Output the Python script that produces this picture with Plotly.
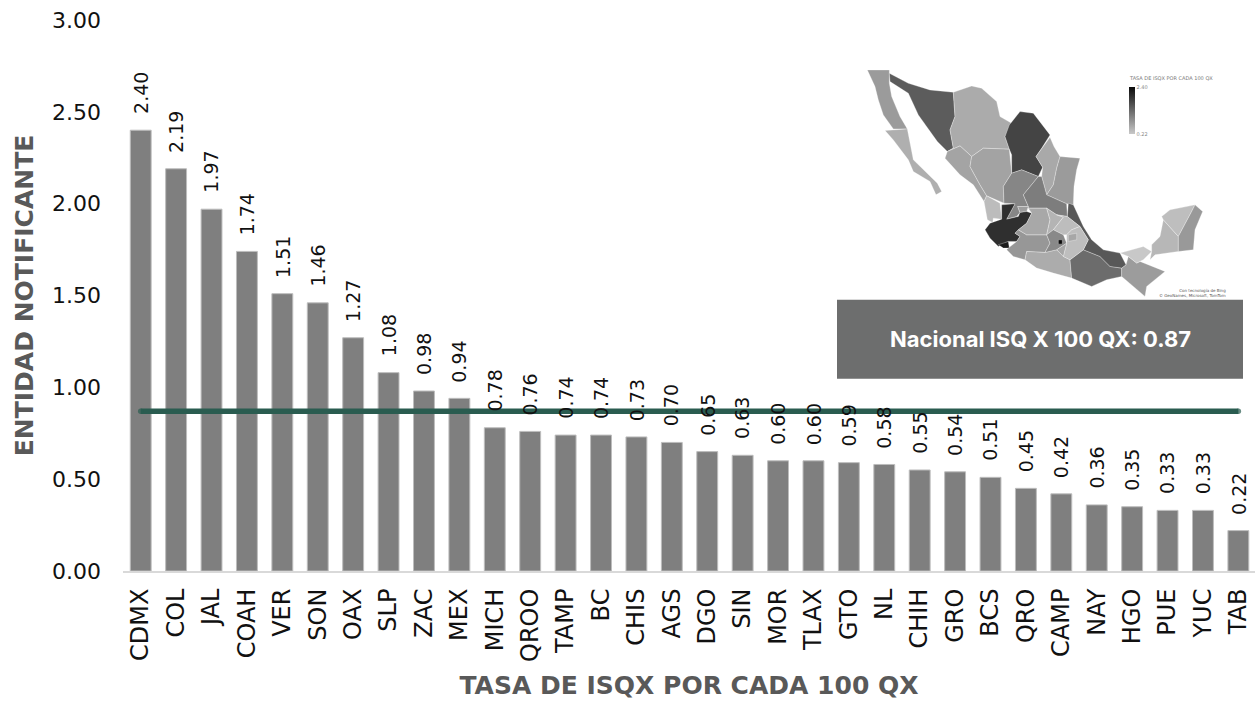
import plotly.graph_objects as go

ENTIDADES = ["CDMX","COL","JAL","COAH","VER","SON","OAX","SLP","ZAC","MEX","MICH","QROO","TAMP","BC","CHIS","AGS",
             "DGO","SIN","MOR","TLAX","GTO","NL","CHIH","GRO","BCS","QRO","CAMP","NAY","HGO","PUE","YUC","TAB"]
TASAS = [2.40,2.19,1.97,1.74,1.51,1.46,1.27,1.08,0.98,0.94,0.78,0.76,0.74,0.74,0.73,0.70,
         0.65,0.63,0.60,0.60,0.59,0.58,0.55,0.54,0.51,0.45,0.42,0.36,0.35,0.33,0.33,0.22]
NACIONAL = 0.87
Y_TICKS = [0, 0.5, 1.0, 1.5, 2.0, 2.5, 3.0]

# Rough state outlines read from the inset map (x, y on the inset's own scale)
ESTADOS = {
 "BC":[(52,30),(118,30),(118,70),(125,110),(150,170),(172,207),(130,207),(100,165),(85,120),(75,80)],
 "BCS":[(105,212),(172,207),(190,300),(215,325),(240,350),(262,370),(275,395),(258,405),(240,365),(190,335),(175,300),(130,240)],
 "SON":[(118,40),(175,70),(240,90),(310,97),(315,170),(300,210),(310,265),(292,275),(262,245),(230,200),(205,165),(175,100),(120,65)],
 "CHIH":[(310,97),(365,78),(395,85),(440,125),(450,170),(485,190),(465,230),(478,268),(400,265),(365,290),(330,258),(292,275),(310,265),(300,210),(315,170)],
 "COAH":[(478,195),(510,155),(550,160),(580,200),(600,225),(575,265),(558,290),(578,322),(565,350),(515,330),(485,340),(485,285),(478,268),(465,230)],
 "NL":[(600,232),(612,260),(630,290),(620,325),(610,375),(590,405),(575,350),(578,322),(558,290),(575,265)],
 "TAMP":[(630,290),(690,295),(680,330),(672,380),(670,435),(650,432),(590,405),(610,375),(620,325)],
 "SIN":[(292,275),(330,258),(365,290),(360,320),(390,375),(410,408),(402,425),(370,375),(330,345),(285,295)],
 "DGO":[(365,290),(400,265),(478,268),(485,340),(460,380),(462,430),(410,408),(390,375),(360,320)],
 "ZAC":[(515,330),(565,350),(520,405),(535,440),(503,440),(510,458),(500,470),(470,478),(495,432),(462,430),(460,380),(485,340)],
 "SLP":[(565,350),(575,350),(590,405),(650,432),(652,470),(620,465),(590,445),(535,445),(535,440),(520,405)],
 "NAY":[(402,425),(410,408),(450,430),(455,478),(430,475),(428,488),(412,480)],
 "AGS":[(503,440),(535,440),(530,455),(510,458)],
 "JAL":[(420,490),(455,478),(455,435),(495,432),(470,478),(505,470),(510,458),(530,455),(545,460),(530,490),(505,510),(495,520),(510,530),(500,545),(475,545),(445,560),(420,535),(405,510)],
 "COL":[(445,555),(475,545),(478,565),(460,565)],
 "MICH":[(475,565),(500,545),(510,530),(495,520),(505,510),(530,525),(590,525),(600,550),(585,578),(530,575),(525,600),(490,590),(470,570)],
 "GRO":[(530,575),(585,578),(620,570),(640,590),(660,600),(665,655),(610,640),(560,625),(525,600)],
 "OAX":[(660,600),(700,570),(750,590),(780,620),(815,625),(815,650),(770,660),(725,680),(665,655)],
 "CHIS":[(835,590),(860,610),(870,605),(945,635),(890,680),(885,710),(850,680),(815,650),(815,625),(828,615)],
 "VER":[(655,430),(670,435),(700,500),(725,540),(760,570),(810,580),(828,615),(815,625),(780,620),(750,590),(700,570),(715,540),(690,500),(652,470)],
 "TAB":[(810,580),(880,560),(905,575),(880,600),(860,610),(835,590)],
 "CAMP":[(905,555),(930,530),(940,480),(985,530),(985,575),(915,585),(900,600),(905,575)],
 "YUC":[(935,470),(960,450),(1035,435),(1025,455),(985,530),(940,480)],
 "QROO":[(1035,435),(1058,455),(1035,510),(1030,570),(985,575),(985,530),(1025,455)],
 "GTO":[(535,445),(590,445),(600,480),(590,525),(530,525),(505,510),(530,490),(545,460)],
 "QRO":[(590,445),(620,465),(640,472),(610,510),(590,525),(600,480)],
 "HGO":[(620,465),(652,470),(690,500),(665,510),(650,525),(640,525),(610,510),(640,472)],
 "MEX":[(590,525),(610,510),(640,525),(650,550),(620,570),(585,578),(600,550)],
 "PUE":[(650,525),(665,510),(690,500),(715,540),(700,570),(660,600),(640,590),(650,550)],
 "MOR":[(620,570),(650,550),(640,590)],
 "TLAX":[(655,525),(680,520),(680,540),(655,545)],
 "CDMX":[(625,540),(637,540),(637,553),(625,553)],
}

VAL = dict(zip(ENTIDADES, TASAS))
vmin, vmax = min(TASAS), max(TASAS)
def gris(v):
    g = round(200 - (v - vmin) / (vmax - vmin) * 190)
    return f"rgb({g},{g},{g})"

FONT = "DejaVu Sans"
W, H = 1255, 706
L, T, B = 123, 20, 134.5
pw, ph = W - L, H - T - B
px = lambda p: (p - L) / pw
py = lambda p: (H - B - p) / ph

fig = go.Figure()
fig.add_bar(x=ENTIDADES, y=TASAS, width=0.59, marker=dict(color="#7f7f7f", line=dict(color="#bdbdbd", width=1)),
            hoverinfo="x+y")
n = len(ENTIDADES)
fig.add_scatter(x=ENTIDADES, y=[NACIONAL] * n, mode="lines+markers",
                line=dict(color="#2a5c50", width=5.5),
                marker=dict(color="#2a5c50", size=[5.5] + [0] * (n - 2) + [5.5], line_width=0), hoverinfo="skip")

for k, pts in ESTADOS.items():
    fig.add_scatter(x=[p[0] for p in pts] + [pts[0][0]], y=[p[1] for p in pts] + [pts[0][1]],
                    xaxis="x2", yaxis="y2", mode="lines", fill="toself", fillcolor=gris(VAL[k]),
                    line=dict(color="rgba(255,255,255,0.6)", width=0.5), hoverinfo="text", text=k)

# map colour legend
fig.add_scatter(x=[-100], y=[-100], xaxis="x2", yaxis="y2", mode="markers", hoverinfo="skip",
    marker=dict(size=1, color=[vmin], cmin=vmin, cmax=vmax,
        colorscale=[[0, gris(vmin)], [1, gris(vmax)]],
        colorbar=dict(x=px(1129), xanchor="left", y=py(87), yanchor="top", thickness=6, len=47, lenmode="pixels",
            tickvals=[vmin, vmax], ticktext=["0.22", "2.40"], ticks="", outlinewidth=0, xpad=0, ypad=0,
            tickfont=dict(size=5, color="#888888", family=FONT))))

ann = [dict(x=c, y=v, xref="x", yref="y", text=f"{v:.2f}", textangle=-90, showarrow=False, yanchor="bottom",
            yshift=14, font=dict(size=19, color="#111111", family=FONT)) for c, v in zip(ENTIDADES, TASAS)]
ann += [
    dict(x=px(1040), y=py(339), xref="paper", yref="paper", xanchor="center", yanchor="middle", showarrow=False,
         text="<b>Nacional ISQ X 100 QX: 0.87</b>", font=dict(size=22, color="white", family="Inter")),
    dict(x=px(1127), y=py(78), xref="paper", yref="paper", xanchor="left", yanchor="middle", showarrow=False,
         text="TASA DE ISQX POR CADA 100 QX", font=dict(size=5, color="#777777", family=FONT)),
    dict(x=px(1228), y=py(293), xref="paper", yref="paper", xanchor="right", yanchor="middle", align="right", showarrow=False,
         text="Con tecnología de Bing<br>© GeoNames, Microsoft, TomTom", font=dict(size=4, color="#555555", family=FONT)),
]

fig.update_layout(
    width=W, height=H, margin=dict(l=L, r=0, t=T, b=B, autoexpand=False), showlegend=False,
    plot_bgcolor="white", paper_bgcolor="white", bargap=0.41, annotations=ann, hovermode="closest",
    xaxis=dict(type="category", categoryorder="array", categoryarray=ENTIDADES, range=[-0.5, 31.47], tickangle=-90,
               showgrid=False, showline=True, linecolor="#d9d9d9", linewidth=2, ticks="", ticklabelstandoff=6,
               tickfont=dict(size=24, color="#111111", family=FONT),
               title=dict(text="<b>TASA DE ISQX POR CADA 100 QX</b>", standoff=16,
                          font=dict(size=25, color="#595959", family=FONT))),
    yaxis=dict(range=[0, 3], tickvals=Y_TICKS, tickformat=".2f", showgrid=False, zeroline=False, ticks="",
               ticklabelstandoff=21, tickfont=dict(size=22, color="#111111", family=FONT),
               title=dict(text="<b>ENTIDAD NOTIFICANTE</b>", standoff=11,
                          font=dict(size=25, color="#595959", family=FONT))),
    xaxis2=dict(domain=[px(850), px(1243)], range=[0, 1179], visible=False, anchor="y2", fixedrange=True),
    yaxis2=dict(domain=[py(300), py(60)], range=[720, 0], visible=False, anchor="x2", fixedrange=True),
    shapes=[dict(type="rect", xref="paper", yref="paper", x0=px(837), x1=px(1243), y0=py(379), y1=py(300),
                 fillcolor="#6d6e6e", line_width=0, layer="above")],
)
fig.write_html("out.html", config=dict(displayModeBar=False), post_script="document.body.style.margin='0';")
